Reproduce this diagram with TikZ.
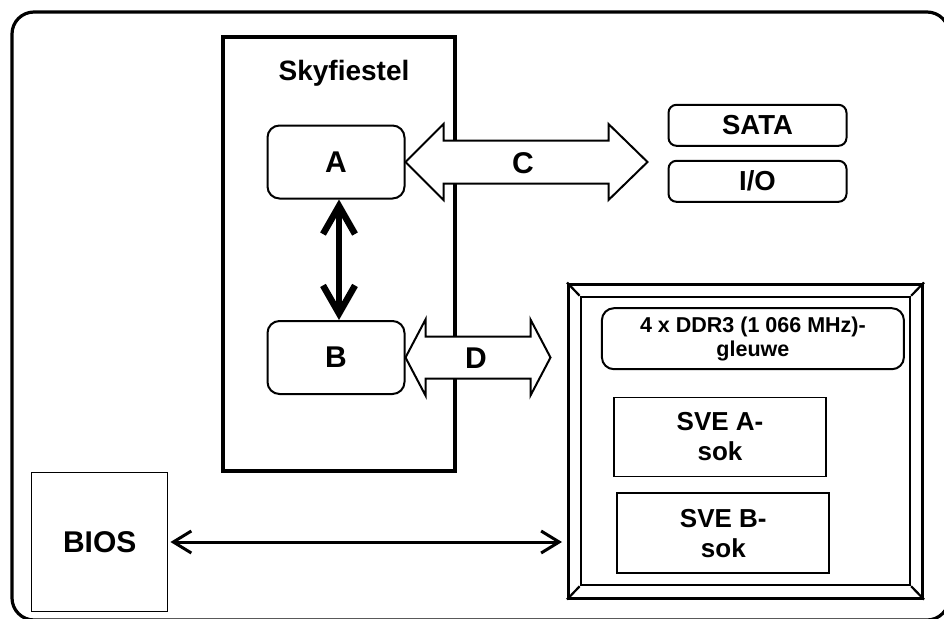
\documentclass[tikz,border=0pt]{standalone}
\usepackage{fontspec}
\setmainfont{Liberation Sans}
\usetikzlibrary{arrows.meta}

\begin{document}
\begin{tikzpicture}[x=1pt,y=-1pt,
  lbl/.style={font=\bfseries\fontsize{26}{30}\selectfont},
  big/.style={font=\bfseries\fontsize{30}{34}\selectfont},
  rbox/.style={draw,line width=2pt,rounded corners=12pt,lbl},
  sbox/.style={draw,line width=1.8pt,lbl,align=center},
  blockarrow/.style={draw,fill=white,line width=2pt,line join=miter}]
\clip (0,0) rectangle (944,618);
\draw[line width=3.2pt,rounded corners=22pt] (12,12) rectangle (949,620);

\node[draw,line width=3.2pt,minimum width=232pt,minimum height=434pt] (sky) at (339,254) {};
\node[lbl,font=\bfseries\fontsize{28}{32}\selectfont] (skyl) at (344,73) {Skyfiestel};

\node[rbox,big,minimum width=137pt,minimum height=73pt] (a) at (336,162) {A};
\node[rbox,big,minimum width=137pt,minimum height=73pt] (b) at (336,357.5) {B};

\node[rbox,rounded corners=8pt,font=\bfseries\fontsize{27.5}{32}\selectfont,minimum width=178pt,minimum height=41pt] (sata) at (757.5,125.3) {SATA};
\node[rbox,rounded corners=8pt,font=\bfseries\fontsize{27.5}{32}\selectfont,minimum width=178pt,minimum height=41pt] (io) at (757.5,181.3) {I/O};

\node[draw,line width=3pt,minimum width=354pt,minimum height=314pt] (mem) at (745.5,441) {};
\node[draw,line width=2.5pt,minimum width=329pt,minimum height=288pt] (memin) at (745.4,441) {};
\draw[line width=2.2pt] (mem.north west) -- (memin.north west);
\draw[line width=2.2pt] (mem.north east) -- (memin.north east);
\draw[line width=2.2pt] (mem.south west) -- (memin.south west);
\draw[line width=2.2pt] (mem.south east) -- (memin.south east);

\node[rbox,align=center,minimum width=302pt,minimum height=61pt,font=\bfseries\fontsize{21.5}{24}\selectfont] (ddr) at (752.9,338.7) {4 x DDR3 (1 066 MHz)-\\gleuwe};
\node[sbox,minimum width=212pt,minimum height=79pt] (svea) at (720,437) {SVE A-\\sok};
\node[sbox,minimum width=212pt,minimum height=80pt] (sveb) at (723.3,533.3) {SVE B-\\sok};

\node[draw,line width=1.5pt,minimum width=136pt,minimum height=139pt,lbl,font=\bfseries\fontsize{30}{34}\selectfont] (bios) at (99.7,542) {BIOS};

\draw[line width=6.5pt,{Straight Barb[length=28pt,width=32pt]}-{Straight Barb[length=28pt,width=32pt]}] ([xshift=3pt]a.south) -- ([xshift=3pt]b.north);

\draw[blockarrow] (a.east) -- ++(38,-38) -- ++(0,16.5) -- ++(165,0) -- ++(0,-16.5) -- ++(39,38) -- ++(-39,38) -- ++(0,-16.5) -- ++(-165,0) -- ++(0,16.5) -- cycle;
\node[big] (c) at (523,163) {C};

\draw[blockarrow] (b.east) -- ++(20,-38) -- ++(0,17) -- ++(105,0) -- ++(0,-17) -- ++(20,38) -- ++(-20,38) -- ++(0,-17) -- ++(-105,0) -- ++(0,17) -- cycle;
\node[big] (d) at (476,358) {D};

\draw[line width=3pt,shorten <=2pt,shorten >=5pt,{Straight Barb[length=18pt,width=22pt]}-{Straight Barb[length=18pt,width=22pt]}] (bios.east) -- (bios.east -| mem.west);
\end{tikzpicture}
\end{document}
